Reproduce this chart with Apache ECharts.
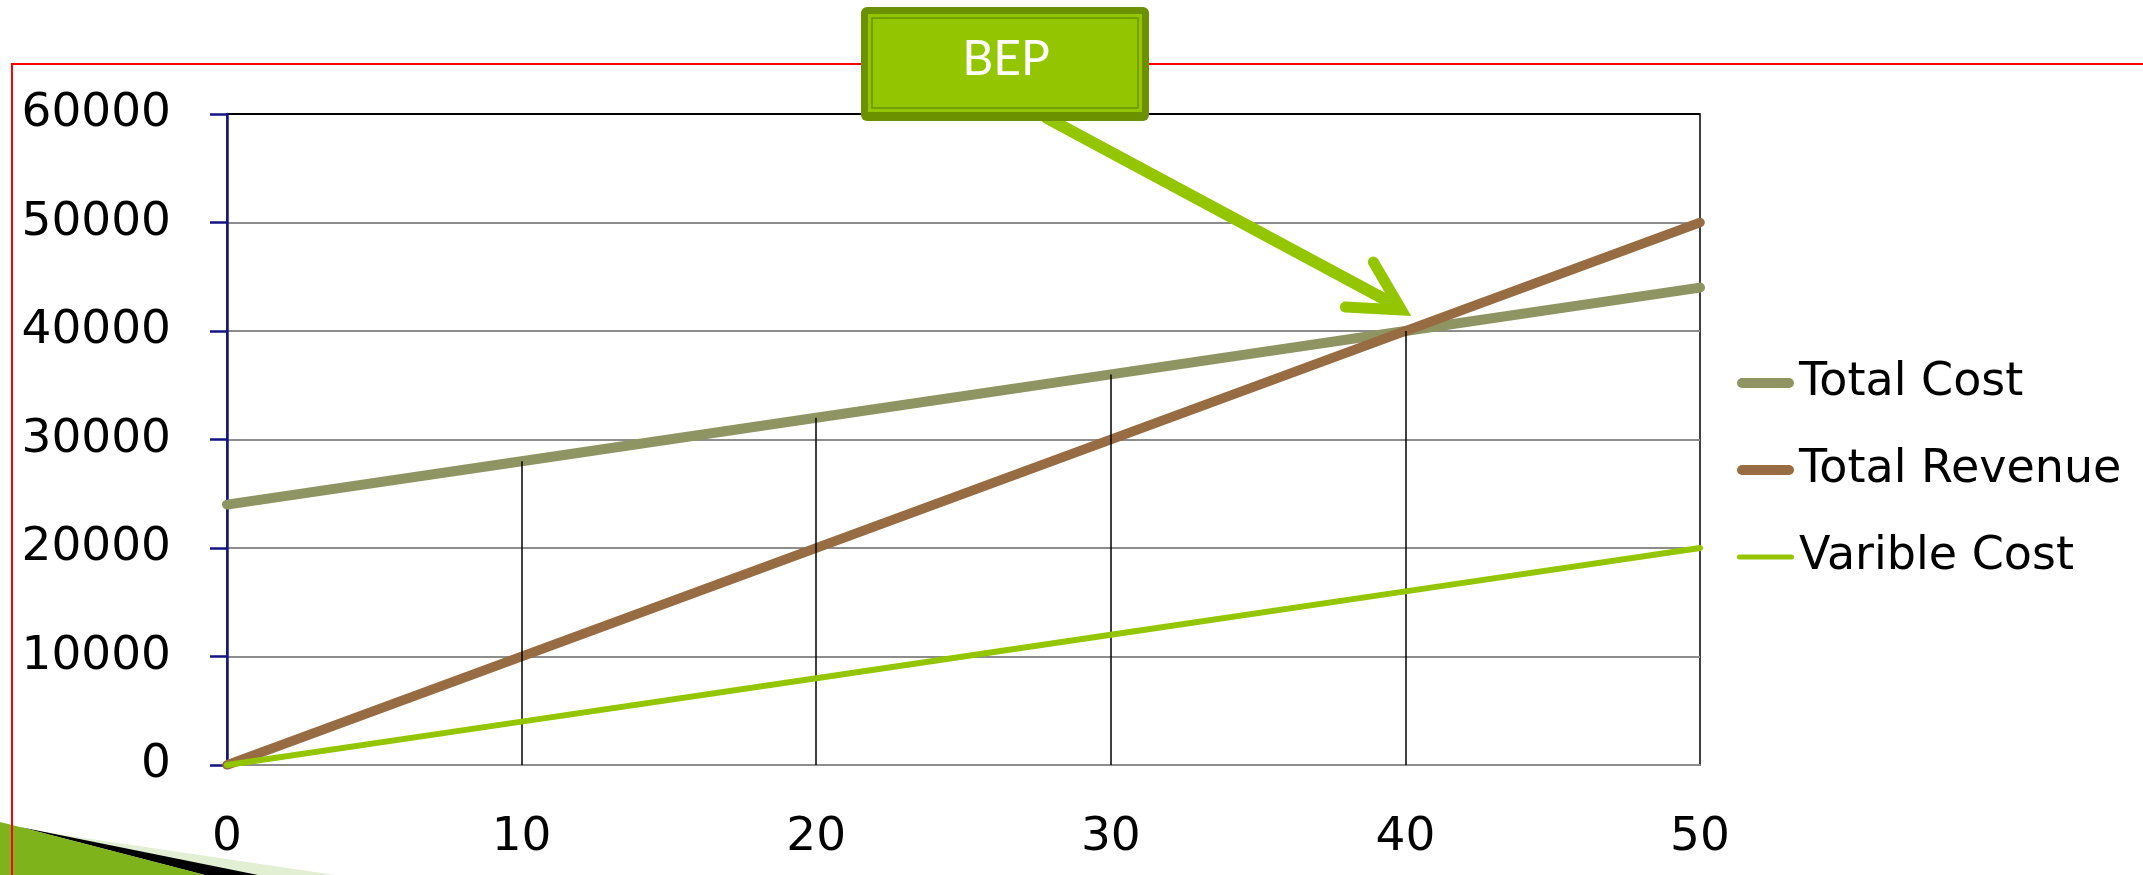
<!DOCTYPE html>
<html>
<head>
<meta charset="utf-8">
<script src="https://cdn.jsdelivr.net/npm/echarts@6/dist/echarts.min.js"></script>
<style>
html,body{margin:0;padding:0;background:#fff;}
#chart{width:2143px;height:875px;}
</style>
</head>
<body>
<div id="chart"></div>
<script>
const quantity = [0, 10, 20, 30, 40, 50];
const totalCost = [24000, 28000, 32000, 36000, 40000, 44000];
const totalRevenue = [0, 10000, 20000, 30000, 40000, 50000];
const variableCost = [0, 4000, 8000, 12000, 16000, 20000];
const seriesNames = ['Total Cost', 'Total Revenue', 'Varible Cost'];
const bepLabel = 'BEP';
const bepPoint = [40, 40000];

const chart = echarts.init(document.getElementById('chart'), null, {renderer: 'canvas'});
const pair = arr => quantity.map((q, i) => [q, arr[i]]);
const FONT = 'DejaVu Sans';
const grid = '#8c8c8c';
const C_TC = '#8f9463', C_TR = '#976c43', C_VC = '#94c600';

const dropLines = quantity.slice(1, 5).map((q, k) => [
  {coord: [q, 0]}, {coord: [q, totalCost[k + 1]]}
]);

const thickIcon = 'path://M5,0 L52,0 A5,5 0 0 1 52,10 L5,10 A5,5 0 0 1 5,0 Z';
const thinIcon = 'path://M2.5,0 L54.5,0 A2.5,2.5 0 0 1 54.5,5 L2.5,5 A2.5,2.5 0 0 1 2.5,0 Z';

const option = {
  animation: false,
  backgroundColor: '#ffffff',
  grid: {left: 227, right: 443, top: 114, bottom: 110, show: true, borderColor: '#000', borderWidth: 1.5, backgroundColor: 'transparent'},
  legend: {
    orient: 'vertical', left: 1732, top: 353,
    data: [
      {name: seriesNames[0], icon: thickIcon, itemStyle: {color: C_TC}},
      {name: seriesNames[1], icon: thickIcon, itemStyle: {color: C_TR}},
      {name: seriesNames[2], icon: thinIcon, itemStyle: {color: C_VC}}
    ],
    itemWidth: 57, itemHeight: 14, itemGap: 37,
    textStyle: {fontFamily: FONT, fontSize: 46, color: '#000', lineHeight: 50}
  },
  xAxis: {
    type: 'value', min: 0, max: 50, interval: 10,
    axisLine: {show: true, lineStyle: {color: grid, width: 2}},
    axisTick: {show: false},
    splitLine: {show: false},
    axisLabel: {fontFamily: FONT, fontSize: 47, color: '#000', margin: 49}
  },
  yAxis: {
    type: 'value', min: 0, max: 60000, interval: 10000,
    axisLine: {show: true, lineStyle: {color: '#141482', width: 2.5}},
    axisTick: {show: true, length: 17, lineStyle: {color: '#141482', width: 2.5}},
    splitLine: {show: true, lineStyle: {color: [grid, grid, grid, grid, grid, grid, '#000'], width: 2}},
    axisLabel: {fontFamily: FONT, fontSize: 47, color: '#000', margin: 56, padding: [0, 0, 14, 0],
      formatter: v => String(v)}
  },
  series: [
    {
      name: 'drop', type: 'line', data: [], z: 1, silent: true,
      markLine: {silent: true, symbol: 'none', label: {show: false},
        lineStyle: {color: '#000', width: 1.5, type: 'solid'}, data: dropLines}
    },
    {name: seriesNames[0], type: 'line', data: pair(totalCost), showSymbol: false, z: 3,
      lineStyle: {color: C_TC, width: 10, cap: 'round'}, itemStyle: {color: C_TC}},
    {name: seriesNames[1], type: 'line', data: pair(totalRevenue), showSymbol: false, z: 4,
      lineStyle: {color: C_TR, width: 9.5, cap: 'round'}, itemStyle: {color: C_TR}},
    {name: seriesNames[2], type: 'line', data: pair(variableCost), showSymbol: false, z: 5,
      lineStyle: {color: C_VC, width: 6, cap: 'round'}, itemStyle: {color: C_VC}}
  ]
};
chart.setOption(option);

const tip = chart.convertToPixel({gridIndex: 0}, bepPoint);
const tx = tip[0] - 4, ty = tip[1] - 21;
const ARROW = '#94c600';
chart.setOption({
  graphic: [
    {type: 'polygon', z: 50, silent: true, shape: {points: [[30, 830], [335, 875], [200, 875]]}, style: {fill: '#e2efd2'}},
    {type: 'polygon', z: 51, silent: true, shape: {points: [[20, 827], [258, 875], [205, 875]]}, style: {fill: '#000'}},
    {type: 'polygon', z: 52, silent: true, shape: {points: [[0, 822], [20, 827], [205, 875], [0, 875]]}, style: {fill: '#7fb31b'}},
    {type: 'rect', z: 60, silent: true, shape: {x: 12, y: 64, width: 2300, height: 1000}, style: {fill: 'none', stroke: '#ff0000', lineWidth: 2}},
    {type: 'polyline', z: 70, silent: true, shape: {points: [[1047, 118], [tx - 8, ty - 6]]}, style: {stroke: ARROW, lineWidth: 12, lineCap: 'round'}},
    {type: 'polyline', z: 71, silent: true, shape: {points: [[tx - 28, ty - 48], [tx, ty], [tx - 56, ty - 3]]}, style: {stroke: ARROW, fill: 'none', lineWidth: 11, lineCap: 'round', lineJoin: 'miter'}},
    {type: 'rect', z: 80, silent: true, shape: {x: 861, y: 7, width: 288, height: 114, r: 6}, style: {fill: '#6b9100'}},
    {type: 'rect', z: 81, silent: true, shape: {x: 868, y: 14, width: 274, height: 98}, style: {fill: '#94c600'}},
    {type: 'rect', z: 82, silent: true, shape: {x: 872, y: 18, width: 266, height: 90}, style: {fill: '#94c600', stroke: '#6b9100', lineWidth: 1.5}},
    {type: 'text', z: 83, silent: true, x: 1006, y: 60, style: {text: bepLabel, fill: '#fff', fontFamily: 'Liberation Sans Narrow, Lato, sans-serif', fontSize: 48, align: 'center', verticalAlign: 'middle'}}
  ]
});
</script>
</body>
</html>
